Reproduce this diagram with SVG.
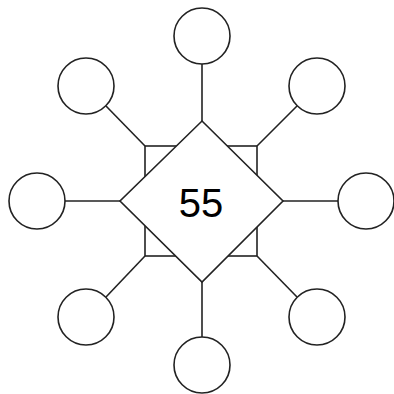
<svg xmlns="http://www.w3.org/2000/svg" width="394" height="394" viewBox="0 0 394 394">
<style>
.s{fill:#fff;stroke:#222;stroke-width:1.6}
.c{fill:#fff;stroke:#222;stroke-width:1.6}
.l{stroke:#222;stroke-width:1.6;fill:none}
.t{font-family:"Liberation Sans",Arial,sans-serif;font-size:40px;fill:#000;text-anchor:middle}
</style>
<rect width="394" height="394" fill="#fff"/>
<g id="connectors">
<line class="l" x1="202" y1="64" x2="202" y2="121"/>
<line class="l" x1="202" y1="282" x2="202" y2="337"/>
<line class="l" x1="65" y1="201" x2="120" y2="201"/>
<line class="l" x1="283" y1="201" x2="338" y2="201"/>
<line class="l" x1="106" y1="106" x2="145" y2="146"/>
<line class="l" x1="297" y1="106" x2="257" y2="146"/>
<line class="l" x1="106" y1="297" x2="145" y2="256"/>
<line class="l" x1="297" y1="297" x2="257" y2="256"/>
</g>
<g id="square"><rect class="s" x="145" y="146" width="112" height="110"/></g>
<g id="center"><polygon class="s" points="202,121 283,201 202,282 120,201"/><text class="t" x="201" y="217">55</text></g>
<g id="n-top"><circle class="c" cx="202" cy="36" r="28"/></g>
<g id="n-bottom"><circle class="c" cx="202" cy="365" r="28"/></g>
<g id="n-left"><circle class="c" cx="37" cy="201" r="28"/></g>
<g id="n-right"><circle class="c" cx="366" cy="201" r="28"/></g>
<g id="n-tl"><circle class="c" cx="86" cy="86" r="28"/></g>
<g id="n-tr"><circle class="c" cx="317" cy="86" r="28"/></g>
<g id="n-bl"><circle class="c" cx="86" cy="317" r="28"/></g>
<g id="n-br"><circle class="c" cx="317" cy="317" r="28"/></g>
</svg>
